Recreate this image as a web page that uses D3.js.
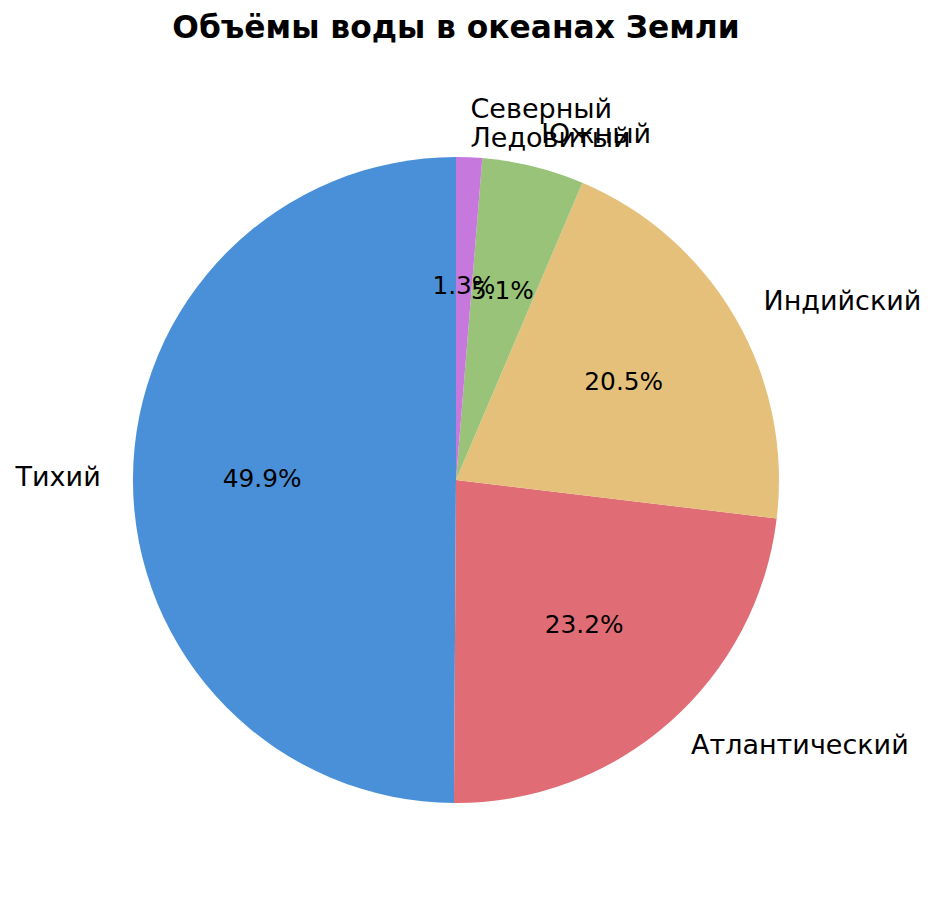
<!DOCTYPE html>
<html>
<head>
<meta charset="utf-8">
<script src="https://cdn.jsdelivr.net/npm/d3@7"></script>
<style>
  body { margin: 0; background: #fff; }
  text { font-family: "DejaVu Sans", sans-serif; fill: #000; }
</style>
</head>
<body>
<div id="chart"></div>
<script>
// data
var oceans = ["Тихий", "Атлантический", "Индийский", "Южный", "Северный\nЛедовитый"];
var volumes = [49.9, 23.2, 20.5, 5.1, 1.3];
var colors = ["#4A90D9", "#E06C75", "#E5C07B", "#98C379", "#C678DD"];

var data = oceans.map(function(name, i) {
  return {label: name, value: volumes[i], color: colors[i]};
});

var width = 937, height = 899;
var cx = 456, cy = 480, radius = 323;
var baseShift = 7.5; // centre -> baseline

var svg = d3.select("#chart").append("svg")
  .attr("width", width)
  .attr("height", height);

svg.append("text")
  .attr("x", cx)
  .attr("y", 38)
  .attr("text-anchor", "middle")
  .style("font-size", "31.3px")
  .style("font-weight", "bold")
  .text("Объёмы воды в океанах Земли");

var g = svg.append("g")
  .attr("transform", "translate(" + cx + "," + cy + ")");

// counterclockwise from 12 o'clock, like matplotlib startangle=90
var pie = d3.pie()
  .value(function(d) { return d.value; })
  .sort(null)
  .startAngle(0)
  .endAngle(-2 * Math.PI);

var arc = d3.arc().innerRadius(0).outerRadius(radius);
var arcs = pie(data);
var total = d3.sum(volumes);

g.selectAll("path.slice")
  .data(arcs)
  .enter().append("path")
  .attr("class", "slice")
  .attr("d", arc)
  .style("fill", function(d) { return d.data.color; });

function mid(d) { return (d.startAngle + d.endAngle) / 2; }

// percent labels
g.selectAll("text.pct")
  .data(arcs)
  .enter().append("text")
  .attr("class", "pct")
  .attr("x", function(d) { return Math.sin(mid(d)) * radius * 0.6; })
  .attr("y", function(d) { return -Math.cos(mid(d)) * radius * 0.6 + baseShift; })
  .attr("text-anchor", "middle")
  .style("font-size", "24.8px")
  .text(function(d) { return d3.format(".1f")(d.data.value / total * 100) + "%"; });

// category labels
var lineH = 28.5;
var labels = g.selectAll("text.lbl")
  .data(arcs)
  .enter().append("text")
  .attr("class", "lbl")
  .attr("text-anchor", function(d) { return Math.sin(mid(d)) > 0 ? "start" : "end"; })
  .style("font-size", "27px");

labels.each(function(d) {
  var x = Math.sin(mid(d)) * radius * 1.1;
  var y = -Math.cos(mid(d)) * radius * 1.1 + baseShift;
  var lines = d.data.label.split("\n");
  var t = d3.select(this);
  lines.forEach(function(line, k) {
    t.append("tspan")
      .attr("x", x)
      .attr("y", y + (k - (lines.length - 1) / 2) * lineH)
      .text(line);
  });
});
</script>
</body>
</html>
